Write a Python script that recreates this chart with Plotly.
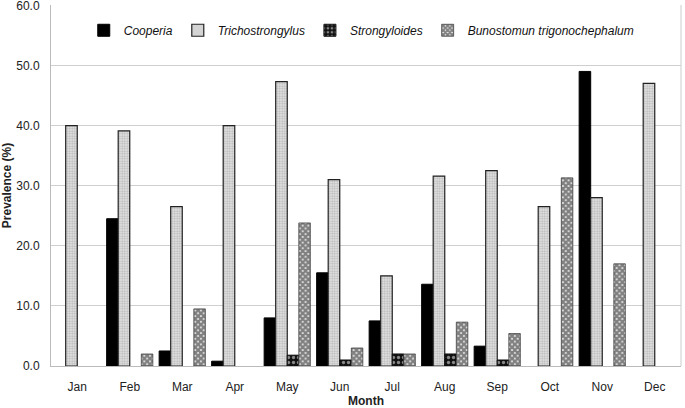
import plotly.graph_objects as go

months = ["Jan", "Feb", "Mar", "Apr", "May", "Jun", "Jul", "Aug", "Sep", "Oct", "Nov", "Dec"]
cooperia = [None, 24.5, 2.5, 0.8, 8.0, 15.5, 7.5, 13.6, 3.3, None, 49.0, None]
trichostrongylus = [40.0, 39.1, 26.5, 40.0, 47.3, 31.0, 15.0, 31.6, 32.5, 26.5, 28.0, 47.0]
strongyloides = [None, None, None, None, 1.8, 1.0, 2.0, 2.0, 1.0, None, None, None]
bunostomun = [None, 2.0, 9.5, None, 23.8, 3.0, 2.0, 7.3, 5.4, 31.3, 17.0, None]

FONT = "Liberation Sans"

fig = go.Figure()
fig.add_trace(go.Bar(
    x=months, y=cooperia, name="<i>Cooperia</i>",
    marker=dict(color="black", line=dict(color="black", width=1)),
))
fig.add_trace(go.Bar(
    x=months, y=trichostrongylus, name="<i>Trichostrongylus</i>",
    marker=dict(color="#d0d0d0", line=dict(color="#222", width=1.2),
                pattern=dict(shape=".", fgcolor="#8a8a8a", bgcolor="#e8e8e8", size=2.5, solidity=0.5)),
))
fig.add_trace(go.Bar(
    x=months, y=strongyloides, name="<i>Strongyloides</i>",
    marker=dict(color="#222", line=dict(color="#111", width=1),
                pattern=dict(shape=".", fgcolor="white", bgcolor="#111", size=5, solidity=0.35)),
))
fig.add_trace(go.Bar(
    x=months, y=bunostomun, name="<i>Bunostomun trigonochephalum</i>",
    marker=dict(color="#333", line=dict(color="#333", width=0.7),
                pattern=dict(shape="x", fgcolor="#111", bgcolor="#eeeeee", size=4, solidity=0.8)),
))

fig.update_layout(
    width=685, height=408,
    margin=dict(l=51, r=4, t=5, b=42),
    paper_bgcolor="white", plot_bgcolor="white",
    barmode="group", bargap=0.12, bargroupgap=0,
    font=dict(family=FONT, size=12, color="#222"),
    legend=dict(orientation="h", x=0.052, y=0.93, xanchor="left", yanchor="middle",
                font=dict(family=FONT, size=12, color="#111"),
                bgcolor="rgba(0,0,0,0)", itemwidth=30, tracegroupgap=0),
    xaxis=dict(title=dict(text="<b>Month</b>", font=dict(size=12), standoff=4),
               showline=True, linecolor="#bbb", linewidth=1, ticks="",
               tickfont=dict(size=12), ticklabelstandoff=10, automargin=False),
    yaxis=dict(title=dict(text="<b>Prevalence (%)</b>", font=dict(size=12), standoff=6),
               range=[0, 60.05], tickvals=[0, 10, 20, 30, 40, 50, 60], tickformat=".1f",
               showgrid=True, gridcolor="#cfcfcf", gridwidth=1, showline=True, linecolor="#bbb",
               ticks="", tickfont=dict(size=12, family=FONT), zeroline=False,
               ticklabelstandoff=8, ticklabeloverflow="allow", automargin=False),
)
fig.add_shape(type="line", xref="paper", yref="paper", x0=1, x1=1, y0=0, y1=1,
              line=dict(color="#ccc", width=1))

fig.write_html("out.html")
